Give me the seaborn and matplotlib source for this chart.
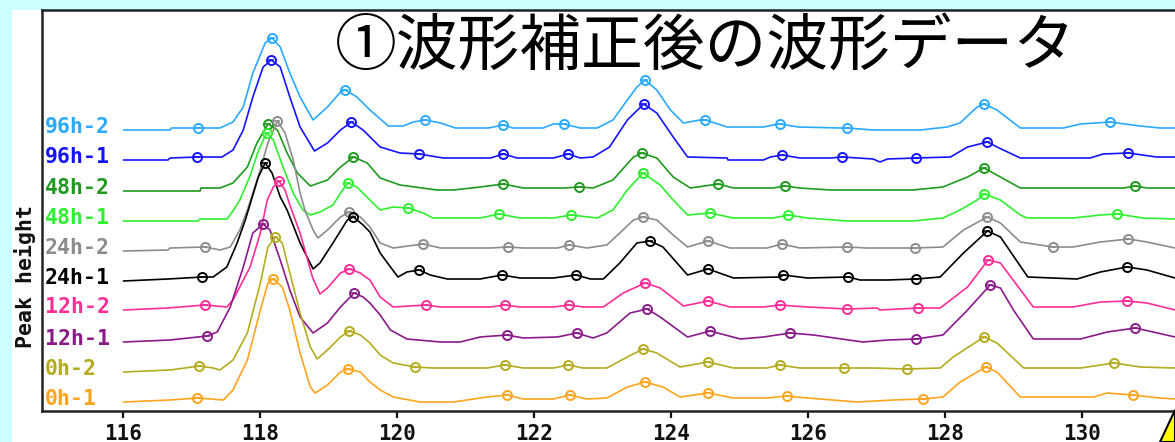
import matplotlib
matplotlib.use("Agg")
import matplotlib.pyplot as plt
import seaborn as sns
import pandas as pd
from matplotlib.patches import Rectangle, Polygon

sns.set_style("white")
plt.rcParams["font.family"] = ["DejaVu Sans Mono", "DejaVu Sans"]

# ---------------- data ----------------
series_names = ["96h-2", "96h-1", "48h-2", "48h-1", "24h-2",
                "24h-1", "12h-2", "12h-1", "0h-2", "0h-1"]
series_colors = ["#2AAAFF", "#1414FF", "#1E9A1E", "#2EF02E", "#8C8C8C",
                 "#000000", "#FF2E96", "#8A1A8A", "#B4AC1E", "#FFA41C"]
series_offsets = [281, 251, 220, 190, 160, 130, 101, 69, 39, 9]
x_ticks = [116, 118, 120, 122, 124, 126, 128, 130]
title_text = "①波形補正後の波形データ"
y_label = "Peak height"

trace_96h_2 = [(116.00, 0), (116.68, 0), (116.70, 2), (117.09, 2), (117.41, 2), (117.60, 8), (117.75, 23),
               (117.89, 57), (118.07, 87), (118.17, 92), (118.29, 83), (118.43, 57), (118.58, 33), (118.77, 10),
               (118.98, 23), (119.17, 38), (119.24, 40), (119.41, 33), (119.60, 20), (119.87, 4), (120.09, 4),
               (120.23, 8), (120.41, 10), (120.63, 7), (120.85, 2), (121.33, 2), (121.55, 5), (121.69, 2),
               (122.13, 2), (122.28, 6), (122.43, 6), (122.67, 2), (122.92, 2), (123.15, 10), (123.36, 30),
               (123.50, 43), (123.62, 50), (123.79, 40), (123.99, 20), (124.18, 7), (124.42, 10), (124.50, 10),
               (124.82, 3), (125.35, 3), (125.49, 5), (125.59, 6), (125.86, 3), (126.47, 2), (126.57, 2),
               (126.95, 0), (127.64, 0), (128.03, 3), (128.22, 7), (128.47, 23), (128.57, 26), (128.76, 20),
               (129.10, 2), (129.73, 2), (129.98, 6), (130.41, 8), (130.85, 4), (131.14, 2), (131.36, 2)]
marks_96h_2 = [(117.09, 2), (118.17, 92), (119.24, 40), (120.41, 10), (121.55, 5), (122.43, 6), (123.62, 50),
               (124.50, 10), (125.59, 6), (126.57, 2), (128.57, 26), (130.41, 8)]

trace_96h_1 = [(116.00, 0), (116.65, 0), (116.68, 2), (117.08, 3), (117.44, 3), (117.60, 10), (117.75, 30),
               (117.89, 63), (118.04, 93), (118.16, 100), (118.29, 93), (118.43, 63), (118.58, 33), (118.79, 9),
               (118.98, 17), (119.17, 30), (119.33, 38), (119.50, 30), (119.75, 13), (120.04, 7), (120.32, 6),
               (120.67, 2), (121.36, 2), (121.55, 6), (121.75, 2), (122.28, 2), (122.50, 6), (122.67, 2),
               (122.86, 3), (123.10, 13), (123.36, 40), (123.60, 56), (123.79, 47), (124.03, 23), (124.24, 3),
               (124.82, 2), (124.83, 0), (125.35, 0), (125.45, 3), (125.62, 5), (125.88, 2), (126.33, 2),
               (126.50, 3), (126.95, 1), (127.05, -2), (127.16, 1), (127.58, 2), (128.08, 3), (128.33, 13),
               (128.62, 18), (128.76, 13), (129.10, 2), (130.12, 2), (130.31, 6), (130.68, 7), (131.09, 3),
               (131.36, 3)]
marks_96h_1 = [(117.08, 3), (118.16, 100), (119.33, 38), (120.32, 6), (121.55, 6), (122.50, 6), (123.60, 56),
               (125.62, 5), (126.50, 3), (127.58, 2), (128.62, 18), (130.68, 7)]

trace_48h_2 = [(116.00, 0), (117.12, 0), (117.13, 3), (117.41, 3), (117.60, 8), (117.81, 24), (117.95, 48),
               (118.11, 67), (118.25, 61), (118.39, 38), (118.54, 18), (118.73, 5), (118.98, 11), (119.17, 24),
               (119.36, 34), (119.56, 28), (119.75, 13), (120.04, 6), (120.58, 1), (120.82, 1), (121.21, 4),
               (121.55, 7), (121.84, 3), (122.43, 3), (122.66, 4), (122.86, 3), (123.15, 11), (123.45, 34),
               (123.57, 38), (123.79, 33), (124.03, 14), (124.28, 3), (124.69, 7), (124.91, 3), (125.49, 3),
               (125.66, 5), (125.88, 3), (126.33, 1), (127.53, 1), (127.97, 4), (128.33, 14), (128.57, 23),
               (128.81, 14), (129.10, 3), (130.61, 3), (130.78, 5), (130.95, 3), (131.36, 3)]
marks_48h_2 = [(118.11, 67), (119.36, 34), (121.55, 7), (122.66, 4), (123.57, 38), (124.69, 7), (125.66, 5),
               (128.57, 23), (130.78, 5)]

trace_48h_1 = [(116.00, 0), (117.09, 0), (117.12, 2), (117.51, 2), (117.60, 10), (117.70, 21), (117.85, 45),
               (117.97, 70), (118.09, 88), (118.19, 81), (118.33, 54), (118.48, 28), (118.62, 11), (118.73, 6),
               (118.87, 9), (119.06, 16), (119.17, 28), (119.28, 38), (119.41, 34), (119.60, 21), (119.75, 11),
               (119.94, 14), (120.16, 13), (120.38, 8), (120.52, 3), (121.21, 3), (121.49, 7), (121.79, 3),
               (122.28, 3), (122.54, 6), (122.92, 3), (123.15, 11), (123.36, 31), (123.59, 48), (123.84, 36),
               (124.03, 21), (124.24, 6), (124.57, 8), (124.91, 3), (125.49, 3), (125.71, 6), (125.99, 3),
               (126.57, 0), (127.53, 0), (127.97, 3), (128.22, 11), (128.47, 21), (128.57, 27), (128.81, 21),
               (129.10, 6), (129.20, 3), (129.87, 3), (130.27, 6), (130.52, 7), (130.89, 3), (131.36, 2)]
marks_48h_1 = [(118.09, 88), (119.28, 38), (120.16, 13), (121.49, 7), (122.54, 6), (123.59, 48), (124.57, 8),
               (125.71, 6), (128.57, 27), (130.52, 7)]

trace_24h_2 = [(116.00, 0), (116.65, 1), (116.68, 3), (117.19, 4), (117.41, 1), (117.56, 4), (117.70, 21),
               (117.81, 41), (117.97, 75), (118.11, 108), (118.25, 130), (118.36, 118), (118.48, 91),
               (118.58, 58), (118.65, 41), (118.77, 21), (118.84, 13), (118.98, 21), (119.17, 34), (119.30, 39),
               (119.46, 34), (119.60, 24), (119.75, 8), (119.94, 3), (120.38, 7), (120.63, 3), (121.36, 3),
               (121.62, 4), (121.84, 3), (122.34, 3), (122.51, 6), (122.77, 3), (123.06, 6), (123.25, 18),
               (123.45, 31), (123.59, 34), (123.79, 31), (124.03, 16), (124.24, 4), (124.54, 10), (124.86, 3),
               (125.40, 3), (125.62, 7), (125.88, 3), (126.57, 4), (126.86, 3), (127.56, 3), (127.97, 4),
               (128.27, 21), (128.62, 34), (128.81, 28), (129.10, 9), (129.58, 4), (129.87, 4), (130.27, 9),
               (130.68, 12), (130.95, 9), (131.36, 3)]
marks_24h_2 = [(117.19, 4), (118.25, 130), (119.30, 39), (120.38, 7), (121.62, 4), (122.51, 6), (123.59, 34),
               (124.54, 10), (125.62, 7), (126.57, 4), (127.56, 3), (128.62, 34), (129.58, 4), (130.68, 12)]

trace_24h_1 = [(116.00, 0), (116.65, 2), (117.15, 4), (117.31, 4), (117.51, 14), (117.66, 38), (117.78, 61),
               (117.97, 104), (118.07, 118), (118.17, 108), (118.29, 84), (118.39, 71), (118.58, 38),
               (118.77, 12), (118.87, 18), (119.06, 38), (119.27, 61), (119.36, 64), (119.50, 56), (119.60, 49),
               (119.75, 28), (119.90, 14), (120.01, 4), (120.14, 9), (120.32, 11), (120.48, 6), (120.73, 2),
               (121.21, 2), (121.53, 6), (121.79, 3), (122.28, 3), (122.61, 6), (122.82, 2), (123.01, 2),
               (123.25, 18), (123.50, 38), (123.69, 40), (123.88, 34), (124.24, 6), (124.54, 12), (124.91, 3),
               (125.59, 4), (125.64, 6), (125.99, 3), (126.59, 4), (126.76, 1), (127.16, 1), (127.58, 2),
               (127.93, 4), (128.27, 28), (128.62, 50), (128.81, 44), (129.21, 4), (129.93, 2), (130.27, 9),
               (130.66, 14), (130.95, 11), (131.36, 3)]
marks_24h_1 = [(117.15, 4), (118.07, 118), (119.36, 64), (120.32, 11), (121.53, 6), (122.61, 6), (123.69, 40),
               (124.54, 12), (125.64, 6), (126.59, 4), (127.58, 2), (128.62, 50), (130.66, 14)]

trace_12h_2 = [(116.00, 0), (116.65, 2), (117.19, 5), (117.51, 3), (117.60, 10), (117.85, 43), (118.00, 77),
               (118.10, 110), (118.19, 123), (118.27, 129), (118.36, 120), (118.43, 105), (118.58, 77),
               (118.76, 33), (118.87, 16), (118.98, 22), (119.17, 37), (119.30, 41), (119.46, 37), (119.60, 30),
               (119.75, 13), (119.94, 3), (120.42, 5), (120.63, 3), (121.36, 3), (121.57, 5), (121.79, 3),
               (122.28, 3), (122.51, 5), (122.71, 3), (123.01, 3), (123.30, 17), (123.62, 27), (123.84, 22),
               (124.18, 4), (124.54, 9), (124.86, 3), (125.35, 3), (125.59, 5), (125.99, 3), (126.57, 1),
               (127.01, 2), (127.05, 0), (127.61, 2), (127.93, 2), (128.33, 23), (128.63, 50), (128.81, 47),
               (129.29, 3), (129.87, 3), (130.27, 8), (130.66, 9), (130.95, 7), (131.36, 0)]
marks_12h_2 = [(117.19, 5), (118.27, 129), (119.30, 41), (120.42, 5), (121.57, 5), (122.51, 5), (123.62, 27),
               (124.54, 9), (125.59, 5), (126.57, 1), (127.61, 2), (128.63, 50), (130.66, 9)]

trace_12h_1 = [(116.00, 0), (116.68, 2), (117.22, 6), (117.37, 10), (117.56, 35), (117.75, 75), (117.89, 109),
               (118.04, 118), (118.14, 112), (118.29, 82), (118.43, 52), (118.58, 25), (118.77, 9), (118.98, 19),
               (119.17, 35), (119.37, 49), (119.50, 45), (119.60, 39), (119.75, 27), (119.90, 12), (120.14, 3),
               (120.63, 0), (120.92, 0), (121.21, 5), (121.60, 7), (121.84, 4), (122.34, 5), (122.62, 9),
               (122.86, 4), (123.06, 9), (123.40, 29), (123.65, 33), (123.84, 25), (124.24, 5), (124.57, 11),
               (125.01, 3), (125.35, 5), (125.74, 9), (126.08, 7), (126.80, 0), (127.16, 2), (127.58, 3),
               (127.97, 7), (128.33, 32), (128.66, 57), (128.81, 54), (129.00, 32), (129.29, 3), (129.98, 3),
               (130.37, 10), (130.78, 14), (131.04, 10), (131.36, 5)]
marks_12h_1 = [(117.22, 6), (118.04, 118), (119.37, 49), (121.60, 7), (122.62, 9), (123.65, 33), (124.57, 11),
               (125.74, 9), (127.58, 3), (128.66, 57), (130.78, 14)]

trace_0h_2 = [(116.00, 0), (116.68, 2), (117.11, 6), (117.31, 4), (117.41, 2), (117.60, 12), (117.81, 39),
              (118.00, 89), (118.11, 125), (118.22, 135), (118.32, 129), (118.43, 99), (118.58, 59), (118.73, 25),
              (118.83, 13), (118.98, 22), (119.17, 35), (119.30, 41), (119.46, 37), (119.60, 29), (119.75, 17),
              (119.94, 9), (120.26, 5), (120.52, 4), (121.31, 4), (121.57, 7), (121.84, 4), (122.28, 4),
              (122.50, 7), (122.71, 4), (123.06, 4), (123.36, 15), (123.59, 23), (123.79, 19), (124.13, 5),
              (124.54, 10), (124.91, 4), (125.40, 4), (125.59, 7), (125.88, 4), (126.53, 4), (126.95, 4),
              (127.45, 3), (127.93, 4), (128.12, 15), (128.57, 35), (128.76, 29), (129.15, 4), (129.98, 4),
              (130.47, 9), (130.85, 5), (131.36, 4)]
marks_0h_2 = [(117.11, 6), (118.22, 135), (119.30, 41), (120.26, 5), (121.57, 7), (122.50, 7), (123.59, 23),
              (124.54, 10), (125.59, 7), (126.53, 4), (127.45, 3), (128.57, 35), (130.47, 9)]

trace_0h_1 = [(116.00, 0), (116.68, 2), (117.08, 4), (117.46, 2), (117.60, 12), (117.81, 42), (118.00, 92),
              (118.11, 119), (118.19, 123), (118.32, 115), (118.43, 92), (118.58, 49), (118.73, 15), (118.80, 9),
              (118.98, 17), (119.17, 30), (119.28, 33), (119.46, 30), (119.60, 20), (119.75, 12), (119.94, 5),
              (120.33, 0), (120.82, 0), (121.31, 5), (121.60, 7), (121.84, 3), (122.28, 3), (122.52, 7),
              (122.77, 3), (123.06, 4), (123.36, 15), (123.62, 20), (123.88, 15), (124.13, 5), (124.54, 9),
              (124.91, 4), (125.40, 4), (125.69, 6), (125.99, 4), (126.72, 0), (127.24, 2), (127.68, 3),
              (127.97, 5), (128.22, 20), (128.60, 35), (128.76, 30), (129.10, 5), (130.17, 5), (130.37, 9),
              (130.74, 7), (131.14, 4), (131.36, 3)]
marks_0h_1 = [(117.08, 4), (118.19, 123), (119.28, 33), (121.60, 7), (122.52, 7), (123.62, 20), (124.54, 9),
              (125.69, 6), (127.68, 3), (128.60, 35), (130.74, 7)]

traces = [trace_96h_2, trace_96h_1, trace_48h_2, trace_48h_1, trace_24h_2,
          trace_24h_1, trace_12h_2, trace_12h_1, trace_0h_2, trace_0h_1]
marks = [marks_96h_2, marks_96h_1, marks_48h_2, marks_48h_1, marks_24h_2,
         marks_24h_1, marks_12h_2, marks_12h_1, marks_0h_2, marks_0h_1]

# ---------------- build frames ----------------
rows = []
for name, off, tr in zip(series_names, series_offsets, traces):
    for x, h in tr:
        rows.append({"series": name, "x": x, "y": off + h})
df = pd.DataFrame(rows)

# ---------------- figure ----------------
W, H = 1175, 442
fig = plt.figure(figsize=(W / 100, H / 100), dpi=100)
fig.patch.set_facecolor("#CCFFFF")
fig.patches.append(Rectangle((12 / W, 0), 1 - 12 / W, 1 - 10 / H, transform=fig.transFigure,
                             facecolor="white", edgecolor="none", zorder=-10))

ax = fig.add_axes([42 / W, 31 / H, 1 - 42 / W, 401 / H])
ax.set_facecolor("white")

sns.lineplot(data=df, x="x", y="y", hue="series", hue_order=series_names,
             palette=series_colors, sort=False, estimator=None, legend=False,
             linewidth=1.2, ax=ax)

for name, off, col, mk in zip(series_names, series_offsets, series_colors, marks):
    mx = [p[0] for p in mk]
    my = [off + p[1] for p in mk]
    ax.plot(mx, my, ls="none", marker="o", mfc="none", mec=col, ms=6.5, mew=1.4, zorder=4)
    ax.plot(mx, my, ls="none", marker="_", mec=col, ms=5, mew=1.2, zorder=4)
    ax.text(114.856, off + 3, name, color=col, ha="left", va="center",
            fontsize=15.5, fontweight="bold", family="DejaVu Sans Mono", clip_on=False)

ax.set_xlim(114.81, 131.36)
ax.set_ylim(0, 401)
ax.set_xlabel("")
ax.set_ylabel("")
ax.set_yticks([])
ax.set_xticks(x_ticks)
ax.set_xticklabels([str(t) for t in x_ticks], fontsize=15, fontweight="bold",
                   family="DejaVu Sans Mono")
ax.tick_params(axis="x", direction="out", length=5, width=1.6, pad=4, colors="#111111",
               bottom=True)
for s in ["left", "bottom", "top"]:
    ax.spines[s].set_color("#222222")
    ax.spines[s].set_linewidth(1.8)
ax.spines["right"].set_visible(False)

fig.text(25 / W, 1 - 277 / H, y_label, rotation=90, ha="center", va="center",
         fontsize=15.5, fontweight="bold", family="DejaVu Sans Mono", color="#111111")

fig.text(335 / W, 1 - 47 / H, title_text, fontsize=44.5, ha="left", va="center",
         family=["Noto Sans CJK JP", "DejaVu Sans"], color="black", zorder=6)

fig.patches.append(Polygon([(1160 / W, 0), (1.0, 32 / H), (1.0, 0)], closed=True,
                           transform=fig.transFigure, facecolor="#FFFF00",
                           edgecolor="black", linewidth=1.5, zorder=7))

fig.savefig("out.png", dpi=100, facecolor=fig.get_facecolor())
